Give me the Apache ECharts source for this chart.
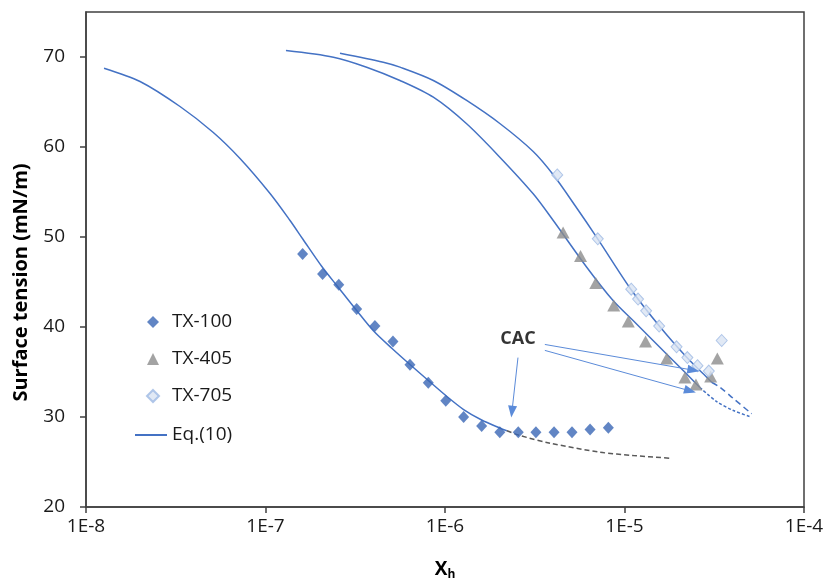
<!DOCTYPE html>
<html>
<head>
<meta charset="utf-8">
<script src="https://cdn.jsdelivr.net/npm/echarts@6/dist/echarts.min.js"></script>
<style>
  html, body { margin: 0; padding: 0; background: #fff; }
  #chart { width: 826px; height: 579px; }
</style>
</head>
<body>
<div id="chart"></div>
<script>
// measured points
var tx100X = [1.61e-7, 2.08e-7, 2.56e-7, 3.22e-7, 4.07e-7, 5.13e-7, 6.38e-7, 8.07e-7, 1.01e-6,
              1.27e-6, 1.60e-6, 2.02e-6, 2.56e-6, 3.21e-6, 4.05e-6, 5.10e-6, 6.43e-6, 8.13e-6];
var tx100Y = [48.1, 45.9, 44.7, 42.0, 40.1, 38.4, 35.8, 33.8, 31.8,
              30.0, 29.0, 28.3, 28.3, 28.3, 28.3, 28.3, 28.6, 28.8];

var tx405X = [4.55e-6, 5.69e-6, 6.92e-6, 8.71e-6, 1.05e-5, 1.31e-5, 1.72e-5, 2.17e-5, 2.50e-5, 3.02e-5, 3.29e-5];
var tx405Y = [50.5, 47.9, 44.9, 42.4, 40.6, 38.4, 36.5, 34.4, 33.6, 34.5, 36.5];

var tx705X = [4.22e-6, 7.10e-6, 1.09e-5, 1.19e-5, 1.32e-5, 1.56e-5, 1.95e-5, 2.24e-5, 2.55e-5, 2.95e-5, 3.48e-5];
var tx705Y = [56.9, 49.8, 44.2, 43.1, 41.8, 40.1, 37.8, 36.6, 35.7, 35.1, 38.5];

// Eq.(10) fitted curves
var fit100X = [1.26e-8, 2.0e-8, 3.34e-8, 5.12e-8, 7.21e-8, 1.06e-7, 1.37e-7, 1.62e-7, 2.06e-7, 2.54e-7,
               3.22e-7, 3.99e-7, 5.07e-7, 6.38e-7, 8.07e-7, 1.01e-6, 1.27e-6, 1.60e-6, 2.02e-6, 2.21e-6];
var fit100Y = [68.76, 67.28, 64.5, 61.61, 58.72, 54.83, 51.83, 49.72, 46.72, 44.42,
               41.83, 39.58, 37.61, 35.83, 34.06, 32.39, 30.83, 29.67, 28.78, 28.47];
var ext100X = [2.21e-6, 2.62e-6, 3.85e-6, 7.30e-6, 1.12e-5, 1.78e-5];
var ext100Y = [28.47, 27.94, 27.09, 26.09, 25.72, 25.42];

var fit405X = [1.30e-7, 2.39e-7, 3.66e-7, 5.61e-7, 8.61e-7, 1.32e-6, 2.02e-6, 3.10e-6, 4.01e-6,
               6.16e-6, 8.66e-6, 1.12e-5, 1.72e-5, 2.13e-5, 2.63e-5];
var fit405Y = [70.72, 69.98, 68.87, 67.39, 65.53, 62.58, 58.87, 54.8, 51.83,
               46.64, 42.91, 40.69, 36.98, 35.13, 33.28];
var ext405X = [2.63e-5, 3.26e-5, 4.04e-5, 5.07e-5];
var ext405Y = [33.28, 31.72, 30.72, 30.0];

var fit705X = [2.60e-7, 4.53e-7, 5.61e-7, 8.61e-7, 1.32e-6, 2.02e-6, 3.10e-6, 4.00e-6, 5.30e-6,
               7.09e-6, 1.087e-5, 1.58e-5, 2.22e-5, 2.87e-5, 3.07e-5];
var fit705Y = [70.42, 69.42, 68.87, 67.39, 65.17, 62.61, 59.5, 56.94, 53.5,
               49.8, 44.17, 40.0, 36.64, 34.42, 33.83];
var ext705X = [3.07e-5, 3.40e-5, 4.04e-5, 5.11e-5];
var ext705Y = [33.83, 33.31, 32.06, 30.36];

// CAC annotation
var cacLabel = [2.55e-6, 38.7];
var cacArrows = [
  [[2.55e-6, 36.6], [2.36e-6, 30.6]],
  [[3.6e-6, 38.06], [2.42e-5, 35.2]],
  [[3.6e-6, 37.4], [2.32e-5, 32.9]]
];

var xTicks = [1e-8, 1e-7, 1e-6, 1e-5, 1e-4];

function pairs(xs, ys) {
  var out = [];
  for (var i = 0; i < xs.length; i++) out.push([xs[i], ys[i]]);
  return out;
}

var FONT = 'Open Sans';
var chart = echarts.init(document.getElementById('chart'));

function fitLine(name, xs, ys, color, dash) {
  return {
    name: name,
    type: 'line',
    data: pairs(xs, ys),
    smooth: 0.3,
    symbol: 'none',
    showSymbol: false,
    z: 2,
    lineStyle: { color: color, width: 1.5, type: dash || 'solid' },
    itemStyle: { color: color }
  };
}

var legendText = { fontFamily: FONT, fontSize: 19, color: '#1a1a1a', lineHeight: 20 };

var option = {
  animation: false,
  backgroundColor: '#fff',
  textStyle: { fontFamily: FONT },
  grid: {
    left: 86, right: 22, top: 12, bottom: 72,
    containLabel: false,
    outerBoundsMode: 'none',
    show: true, borderColor: '#404040', borderWidth: 1.5
  },
  legend: [
    {
      data: ['TX-100', 'TX-405', 'TX-705'],
      orient: 'vertical',
      left: 141,
      top: 307,
      itemWidth: 12,
      itemHeight: 12,
      itemGap: 17,
      textStyle: Object.assign({ padding: [0, 0, 0, 8] }, legendText)
    },
    {
      data: [{ name: 'Eq.(10)', icon: 'rect' }],
      orient: 'vertical',
      left: 130,
      top: 420,
      itemWidth: 32,
      itemHeight: 2,
      textStyle: legendText
    }
  ],
  xAxis: {
    type: 'log',
    logBase: 10,
    min: xTicks[0],
    max: xTicks[xTicks.length - 1],
    name: '{x|X}{s|h}',
    nameLocation: 'middle',
    nameGap: 52,
    nameTextStyle: {
      rich: {
        x: { fontFamily: FONT, fontWeight: 'bold', fontSize: 19, color: '#000' },
        s: { fontFamily: FONT, fontWeight: 'bold', fontSize: 12, color: '#000', padding: [10, 0, 0, 0] }
      }
    },
    axisLine: { lineStyle: { color: '#404040', width: 1.5 } },
    axisTick: { show: true, inside: false, length: 6, lineStyle: { color: '#404040', width: 1.5 } },
    minorTick: { show: false },
    splitLine: { show: false },
    axisLabel: {
      fontFamily: FONT, fontSize: 19, color: '#1a1a1a', margin: 10,
      formatter: function (v) { return '1E' + Math.round(Math.log10(v)); }
    }
  },
  yAxis: {
    type: 'value',
    min: 20,
    max: 75,
    interval: 10,
    name: 'Surface tension (mN/m)',
    nameLocation: 'middle',
    nameGap: 55,
    nameTextStyle: {
      fontFamily: FONT, fontWeight: 'bold', fontSize: 20, color: '#000',
      padding: [0, 46, 0, 0]
    },
    axisLine: { show: true, lineStyle: { color: '#404040', width: 1.5 } },
    axisTick: { show: true, inside: false, length: 6, lineStyle: { color: '#404040', width: 1.5 } },
    splitLine: { show: false },
    axisLabel: { fontFamily: FONT, fontSize: 19, color: '#1a1a1a', margin: 21, showMaxLabel: false }
  },
  series: [
    fitLine('Eq.(10)', fit100X, fit100Y, '#4472C4'),
    fitLine('Eq.(10)', fit405X, fit405Y, '#4472C4'),
    fitLine('Eq.(10)', fit705X, fit705Y, '#4472C4'),
    fitLine('ext100', ext100X, ext100Y, '#595959', [5, 3]),
    fitLine('ext405', ext405X, ext405Y, '#4472C4', [3, 2]),
    fitLine('ext705', ext705X, ext705Y, '#4472C4', [6, 4]),
    {
      name: 'TX-100',
      type: 'scatter',
      data: pairs(tx100X, tx100Y),
      symbol: 'diamond',
      symbolSize: [11, 12],
      z: 4,
      itemStyle: { color: '#3A66B5' }
    },
    {
      name: 'TX-405',
      type: 'scatter',
      data: pairs(tx405X, tx405Y),
      symbol: 'triangle',
      symbolSize: [13, 12],
      z: 4,
      itemStyle: { color: '#8C8C8C' }
    },
    {
      name: 'TX-705',
      type: 'scatter',
      data: pairs(tx705X, tx705Y),
      symbol: 'diamond',
      symbolSize: [11, 12],
      z: 4,
      itemStyle: { color: '#DAE3F3', borderColor: '#9DB9E3', borderWidth: 1 }
    },
    {
      name: 'CAC',
      type: 'scatter',
      data: [cacLabel],
      symbolSize: 1,
      z: 5,
      itemStyle: { color: 'rgba(0,0,0,0)' },
      label: {
        show: true, position: 'inside', formatter: 'CAC',
        fontFamily: FONT, fontWeight: 'bold', fontSize: 18, color: '#000'
      },
      markLine: {
        silent: true,
        symbol: ['none', 'triangle'],
        symbolSize: [9, 12],
        label: { show: false },
        lineStyle: { color: '#5B8BD9', width: 1, type: 'solid' },
        data: cacArrows.map(function (a) {
          return [{ coord: a[0] }, { coord: a[1] }];
        })
      }
    }
  ]
};

chart.setOption(option);
</script>
</body>
</html>
